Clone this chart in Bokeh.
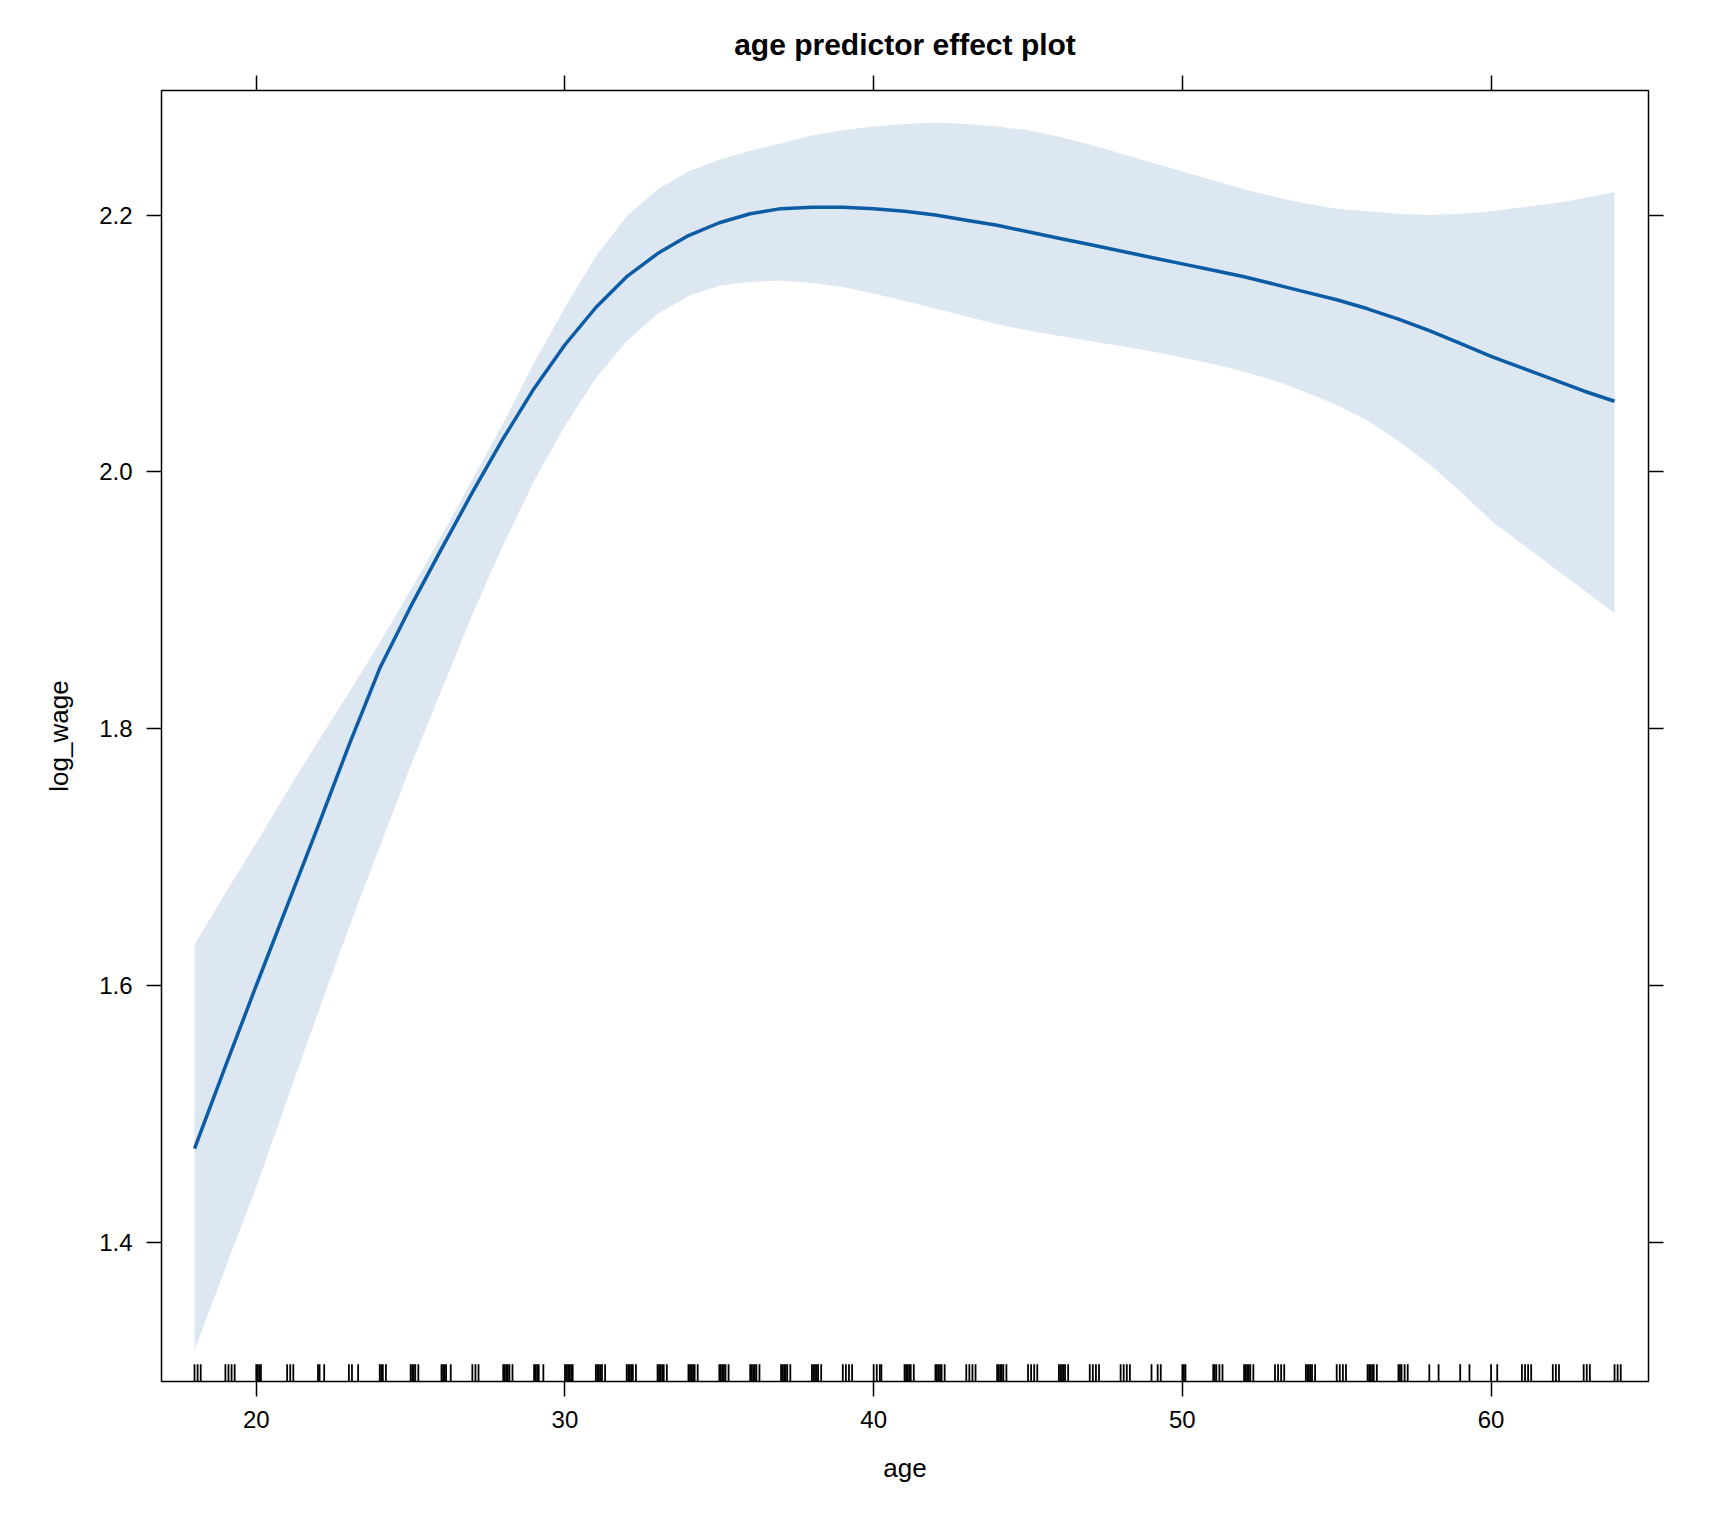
from bokeh.plotting import figure
from bokeh.models import LinearAxis, FixedTicker, Range1d, NumeralTickFormatter
from bokeh.embed import file_html
from bokeh.resources import INLINE

ages = list(range(18, 65))
fit = [1.473, 1.537, 1.600, 1.662, 1.724, 1.787, 1.847, 1.895, 1.940, 1.984, 2.026, 2.065,
       2.099, 2.128, 2.152, 2.170, 2.184, 2.194, 2.201, 2.205, 2.206, 2.206, 2.205, 2.203,
       2.200, 2.196, 2.192, 2.187, 2.182, 2.177, 2.172, 2.167, 2.162, 2.157, 2.152, 2.146,
       2.140, 2.134, 2.127, 2.119, 2.110, 2.100, 2.090, 2.081, 2.072, 2.063, 2.055]
upper = [1.632, 1.672, 1.711, 1.751, 1.790, 1.828, 1.867, 1.908, 1.950, 1.994, 2.038, 2.085,
         2.128, 2.168, 2.199, 2.220, 2.234, 2.243, 2.250, 2.256, 2.262, 2.266, 2.269, 2.271,
         2.272, 2.271, 2.269, 2.266, 2.261, 2.255, 2.248, 2.241, 2.234, 2.227, 2.220, 2.214,
         2.209, 2.205, 2.203, 2.201, 2.200, 2.201, 2.203, 2.206, 2.209, 2.213, 2.218]
lower = [1.316, 1.380, 1.443, 1.511, 1.579, 1.645, 1.708, 1.771, 1.830, 1.889, 1.943, 1.993,
         2.036, 2.073, 2.102, 2.123, 2.137, 2.145, 2.148, 2.149, 2.147, 2.144, 2.139, 2.133,
         2.127, 2.121, 2.115, 2.110, 2.106, 2.102, 2.098, 2.094, 2.089, 2.084, 2.078, 2.071,
         2.062, 2.052, 2.040, 2.024, 2.006, 1.985, 1.962, 1.944, 1.926, 1.908, 1.890]

rug = [18.0, 18.1, 18.2, 19.0, 19.1, 19.2, 19.3, 20.0, 20.05, 20.1, 20.15, 21.0, 21.1, 21.2,
       22.0, 22.05, 22.2, 23.0, 23.1, 23.3, 24.0, 24.05, 24.1, 24.2, 25.0, 25.05, 25.1, 25.15, 25.25,
       26.0, 26.05, 26.1, 26.15, 26.3, 27.0, 27.1, 27.2, 28.0, 28.05, 28.1, 28.15, 28.2, 28.3, 29.0,
       29.05, 29.1, 29.15, 29.3, 30.0, 30.05, 30.1, 30.15, 30.2, 30.25, 31.0, 31.05, 31.1, 31.15,
       31.2, 31.3, 32.0, 32.05, 32.1, 32.15, 32.2, 32.3, 33.0, 33.05, 33.1, 33.15, 33.2, 33.3,
       34.0, 34.05, 34.1, 34.15, 34.2, 34.3, 35.0, 35.05, 35.1, 35.15, 35.2, 35.3, 36.0, 36.05,
       36.1, 36.15, 36.2, 36.3, 37.0, 37.05, 37.1, 37.15, 37.2, 37.3, 38.0, 38.05, 38.1, 38.15,
       38.2, 38.3, 39.0, 39.1, 39.2, 39.3, 40.0, 40.1, 40.2, 40.25, 41.0, 41.05, 41.1, 41.15,
       41.2, 41.3, 42.0, 42.05, 42.1, 42.15, 42.2, 42.3, 43.0, 43.1, 43.2, 43.3, 44.0, 44.05,
       44.1, 44.15, 44.2, 44.3, 45.0, 45.1, 45.2, 45.3, 46.0, 46.05, 46.1, 46.15, 46.2, 46.3,
       47.0, 47.1, 47.2, 47.3, 48.0, 48.1, 48.2, 48.3, 49.0, 49.2, 49.3, 50.0, 50.05, 50.1,
       51.0, 51.05, 51.1, 51.2, 51.3, 52.0, 52.05, 52.1, 52.15, 52.2, 52.3, 53.0, 53.1, 53.2,
       53.3, 54.0, 54.05, 54.1, 54.15, 54.2, 54.3, 55.0, 55.1, 55.2, 55.3, 56.0, 56.05, 56.1,
       56.15, 56.2, 56.3, 57.0, 57.05, 57.1, 57.2, 57.3, 58.0, 58.3, 59.0, 59.3, 60.0, 60.2,
       61.0, 61.1, 61.2, 61.3, 62.0, 62.1, 62.2, 63.0, 63.1, 63.2, 64.0, 64.1, 64.2]

x_ticks = [20, 30, 40, 50, 60]
y_ticks = [1.4, 1.6, 1.8, 2.0, 2.2]

FONT = "Liberation Sans"
X0, X1 = 16.93, 65.1
Y0, Y1 = 1.2916, 2.297

p = figure(width=1712, height=1520, output_backend="svg", toolbar_location=None,
           x_range=Range1d(X0, X1), y_range=Range1d(Y0, Y1),
           x_axis_location=None, y_axis_location=None,
           min_border_left=161, min_border_right=64, min_border_top=90, min_border_bottom=139)
p.title.text = "age predictor effect plot"
p.title.align = "center"
p.title.text_font = FONT
p.title.text_color = "black"
p.title.text_font_size = "30px"
p.title.text_font_style = "bold"
p.title.standoff = 30
p.grid.visible = False
p.outline_line_color = "black"
p.outline_line_width = 1.5

def make_axis(ticks, labelled, label=None):
    ax = LinearAxis(ticker=FixedTicker(ticks=ticks), formatter=NumeralTickFormatter(format="0.0")) \
        if ticks is y_ticks else LinearAxis(ticker=FixedTicker(ticks=ticks))
    ax.major_tick_out = 15
    ax.major_tick_in = 0
    ax.minor_tick_out = 0
    ax.minor_tick_in = 0
    ax.axis_line_color = None
    ax.major_tick_line_width = 1.5
    ax.major_label_text_font = FONT
    ax.major_label_text_color = "black"
    ax.major_label_text_font_size = "24px"
    ax.major_label_standoff = 14
    if not labelled:
        ax.major_label_text_alpha = 0
        ax.major_label_text_font_size = "1px"
    if label:
        ax.axis_label = label
        ax.axis_label_text_font = FONT
        ax.axis_label_text_color = "black"
        ax.axis_label_text_font_size = "26px"
        ax.axis_label_text_font_style = "normal"
        ax.axis_label_standoff = 22
    return ax

p.add_layout(make_axis(x_ticks, True, "age"), "below")
p.add_layout(make_axis(x_ticks, False), "above")
p.add_layout(make_axis(y_ticks, True, "log_wage"), "left")
p.add_layout(make_axis(y_ticks, False), "right")

p.varea(x=ages, y1=lower, y2=upper, fill_color="#DCE7F2", fill_alpha=1)
p.line(ages, fit, line_color="#0B5CA5", line_width=3.5)
p.segment(x0=rug, y0=[Y0] * len(rug), x1=rug, y1=[Y0 + 0.0135] * len(rug),
          line_color="black", line_width=1.8)

open("out.html", "w").write(file_html(p, INLINE))
